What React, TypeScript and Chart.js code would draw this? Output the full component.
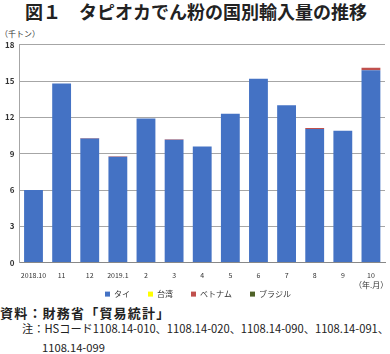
import React, { useEffect, useRef } from "react";
import { Chart, registerables } from "chart.js";

Chart.register(...registerables);

const categories = ["2018.10", "11", "12", "2019.1", "2", "3", "4", "5", "6", "7", "8", "9", "10"];
const thai = [6.0, 14.8, 10.25, 8.75, 11.9, 10.15, 9.6, 12.3, 15.2, 13.0, 11.05, 10.9, 15.9];
const taiwan = [0, 0, 0, 0, 0, 0, 0, 0, 0, 0, 0, 0, 0];
const vietnam = [0, 0, 0.04, 0.04, 0, 0.05, 0, 0, 0, 0, 0.08, 0, 0.2];
const brazil = [0, 0, 0, 0, 0, 0, 0, 0, 0, 0, 0, 0, 0];
const seriesNames = ["タイ", "台湾", "ベトナム", "ブラジル"];
const seriesColors = ["#4472C4", "#FFFF00", "#C0504D", "#4F6228"];
const yTicks = [0, 3, 6, 9, 12, 15, 18];

const FONT = "'Noto Sans CJK JP', 'Noto Sans', sans-serif";

// legend drawn below the x labels, items spaced like the original
const bottomLegend = {
  id: "bottomLegend",
  afterDraw(chart: any) {
    const ctx = chart.ctx;
    const fontSize = 8;
    const box = 5;
    const gap = 4;
    const spacing = 18;
    ctx.save();
    ctx.font = `${fontSize}px ${FONT}`;
    const items = chart.data.datasets.map((ds: any) => ({
      text: ds.label,
      color: ds.backgroundColor,
      w: box + gap + ctx.measureText(ds.label).width,
    }));
    const total = items.reduce((s: number, it: any) => s + it.w, 0) + spacing * (items.length - 1);
    let x = (chart.width - total) / 2 + 3;
    const y = chart.chartArea.bottom + 31.5;
    ctx.textBaseline = "middle";
    ctx.textAlign = "left";
    for (const it of items) {
      ctx.fillStyle = it.color;
      ctx.fillRect(x, y - box / 2, box, box);
      ctx.fillStyle = "#333";
      ctx.fillText(it.text, x + box + gap, y);
      x += it.w + spacing;
    }
    ctx.restore();
  },
};

export default function App() {
  const ref = useRef<HTMLCanvasElement | null>(null);

  useEffect(() => {
    if (!ref.current) return;
    const chart = new Chart(ref.current, {
      type: "bar",
      data: {
        labels: categories,
        datasets: seriesNames.map((name, i) => ({
          label: name,
          data: [thai, taiwan, vietnam, brazil][i],
          backgroundColor: seriesColors[i],
        })),
      },
      options: {
        animation: false,
        responsive: false,
        maintainAspectRatio: false,
        layout: { padding: { top: 0, right: 5, left: 0, bottom: 10 } },
        datasets: { bar: { categoryPercentage: 1, barPercentage: 0.67, borderWidth: 0 } },
        plugins: {
          tooltip: { enabled: false },
          legend: { display: false },
        },
        scales: {
          x: {
            stacked: true,
            grid: { display: false, drawTicks: false },
            border: { display: true, color: "#888", width: 1 },
            ticks: {
              color: "#333",
              font: { family: FONT, size: 7 },
              maxRotation: 0,
              autoSkip: false,
              padding: 9,
            },
          },
          y: {
            stacked: true,
            min: 0,
            max: 18,
            afterBuildTicks: (axis: any) => {
              axis.ticks = yTicks.map((v) => ({ value: v }));
            },
            grid: { color: "#A6A6A6", lineWidth: 1, drawTicks: false },
            border: { display: true, color: "#A6A6A6", width: 1 },
            ticks: {
              color: "#333",
              font: { family: FONT, size: 8, weight: "bold" },
              padding: 5,
            },
          },
        },
      },
      plugins: [bottomLegend],
    });
    return () => chart.destroy();
  }, []);

  return (
    <div
      style={{
        position: "fixed",
        left: 0,
        top: 0,
        width: 390,
        height: 354,
        background: "#fff",
        fontFamily: FONT,
        color: "#222",
        overflow: "hidden",
      }}
    >
      <div
        style={{
          position: "absolute",
          left: 25,
          top: 0,
          fontSize: 18,
          fontWeight: "bold",
          lineHeight: "22px",
          whiteSpace: "nowrap",
          color: "#222",
        }}
      >
        図１　タピオカでん粉の国別輸入量の推移
      </div>
      <div
        style={{
          position: "absolute",
          left: 0,
          top: 28,
          fontSize: 8,
          lineHeight: "12px",
          color: "#333",
          whiteSpace: "nowrap",
        }}
      >
        （千トン）
      </div>
      <canvas
        ref={ref}
        width={390}
        height={264}
        style={{ position: "absolute", left: 0, top: 35, width: 390, height: 264 }}
      />
      <div
        style={{
          position: "absolute",
          left: 354,
          top: 279,
          fontSize: 8,
          lineHeight: "12px",
          color: "#333",
          whiteSpace: "nowrap",
        }}
      >
        （年.月）
      </div>
      <div
        style={{
          position: "absolute",
          left: 0,
          top: 304,
          fontSize: 13,
          letterSpacing: 1.2,
          fontWeight: "bold",
          lineHeight: "18px",
          whiteSpace: "nowrap",
          color: "#222",
        }}
      >
        資料：財務省「貿易統計」
      </div>
      <div
        style={{
          position: "absolute",
          left: 22,
          top: 319,
          width: 368,
          fontSize: 11.2,
          lineHeight: "19px",
          color: "#222",
        }}
      >
        <div style={{ whiteSpace: "nowrap" }}>注：HSコード1108.14-010、1108.14-020、1108.14-090、1108.14-091、</div>
        <div style={{ paddingLeft: 20, whiteSpace: "nowrap" }}>1108.14-099</div>
      </div>
    </div>
  );
}
